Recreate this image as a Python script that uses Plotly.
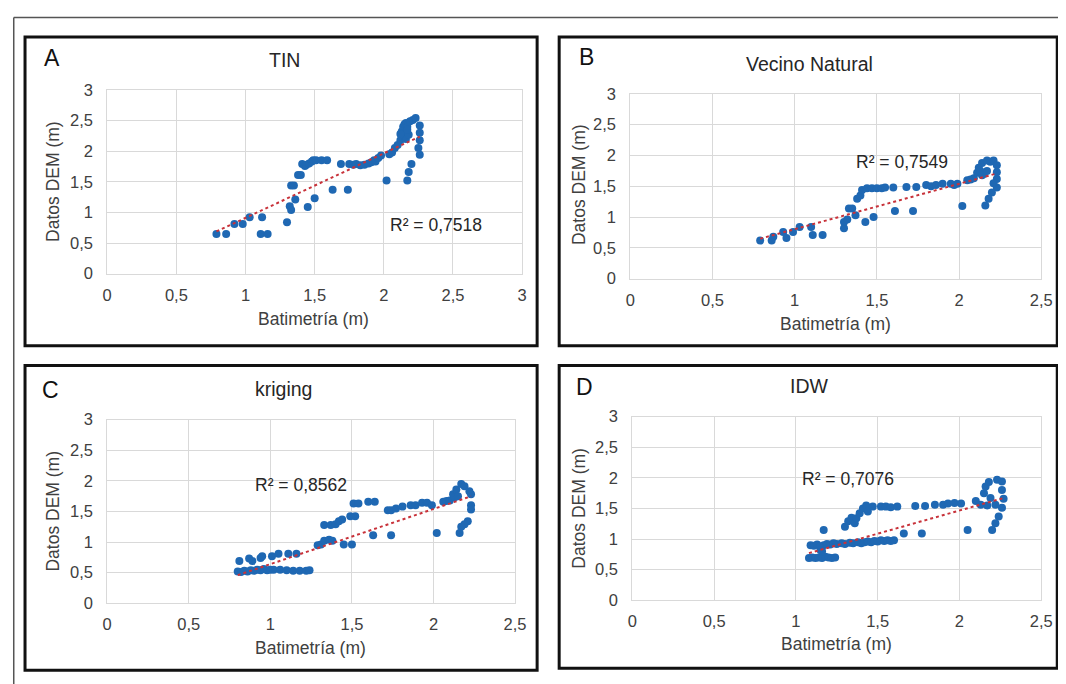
import plotly.graph_objects as go

# Figure size; the photographed page shows the figure slightly offset and scaled,
# so window positions are mapped back into figure pixels below.
W, H = 1075, 690
OX, SX = 12.0, 0.983
OY, SY = 15.0, 0.975

# ---------------- data ----------------
tin_x = [0.79,0.86,0.92,0.98,1.03,1.12,1.11,1.16,1.30,1.32,1.33,1.36,1.45,1.50,1.33,1.35,1.38,1.40,1.41,1.43,
         1.44,1.46,1.48,1.49,1.51,1.55,1.59,1.63,1.74,1.69,1.75,1.78,1.80,1.83,1.86,1.89,1.91,1.93,1.94,1.96,
         1.98,2.02,2.04,2.06,2.08,2.10,2.12,2.13,2.13,2.14,2.15,2.16,2.17,2.19,2.21,2.23,2.26,2.26,2.26,2.25,
         2.26,2.20,2.18,2.17,2.14,2.15,2.16,2.18,2.12,2.17]
tin_y = [0.65,0.65,0.81,0.81,0.92,0.92,0.65,0.65,0.84,1.10,1.04,1.21,1.09,1.23,1.44,1.44,1.61,1.61,1.79,1.76,
         1.78,1.80,1.83,1.85,1.85,1.85,1.85,1.37,1.37,1.79,1.79,1.78,1.79,1.77,1.78,1.80,1.82,1.85,1.83,1.89,
         1.93,1.52,1.95,1.98,2.05,2.10,2.18,2.25,2.32,2.40,2.44,2.46,2.40,2.49,2.51,2.54,2.42,2.30,2.18,2.05,
         1.94,1.79,1.66,1.52,2.22,2.30,2.20,2.27,2.28,2.35]

vn_x = [0.79,0.86,0.87,0.93,0.95,0.99,1.03,1.10,1.11,1.17,1.30,1.30,1.32,1.33,1.35,1.37,1.38,1.40,1.41,1.43,
        1.48,1.44,1.47,1.50,1.53,1.55,1.60,1.61,1.72,1.68,1.74,1.80,1.83,1.86,1.90,1.95,1.97,1.99,2.02,2.05,
        2.07,2.09,2.11,2.12,2.13,2.14,2.15,2.17,2.19,2.21,2.23,2.23,2.23,2.23,2.21,2.20,2.18,2.16,2.14,2.17]
vn_y = [0.62,0.62,0.68,0.76,0.66,0.76,0.84,0.84,0.71,0.71,0.82,0.92,0.96,1.14,1.14,1.03,1.30,1.35,1.44,0.92,
        1.00,1.47,1.47,1.47,1.47,1.48,1.48,1.10,1.10,1.49,1.49,1.52,1.50,1.52,1.54,1.54,1.52,1.54,1.18,1.60,
        1.61,1.63,1.72,1.80,1.75,1.88,1.70,1.92,1.90,1.92,1.84,1.73,1.62,1.48,1.55,1.40,1.30,1.19,1.68,1.75]

kr_x = [0.80,0.82,0.84,0.86,0.88,0.90,0.92,0.94,0.96,0.98,1.00,
        0.81,0.87,0.89,0.94,0.95,1.01,1.05,1.11,1.16,
        1.02,1.06,1.10,1.14,1.18,1.22,1.24,
        1.29,1.31,1.33,1.36,1.38,1.33,1.37,1.40,1.42,1.44,1.45,1.50,1.49,1.52,1.51,1.54,1.60,1.64,1.63,1.74,
        1.72,1.74,1.77,1.81,1.86,1.89,1.93,1.96,1.99,2.02,2.06,2.08,2.10,2.12,2.14,2.17,2.19,2.22,2.23,2.23,
        2.23,2.21,2.19,2.17,2.16,2.13,2.15]
kr_y = [0.52,0.51,0.53,0.52,0.54,0.53,0.55,0.54,0.56,0.54,0.55,
        0.69,0.73,0.69,0.74,0.77,0.77,0.81,0.81,0.81,
        0.55,0.55,0.54,0.53,0.53,0.53,0.54,
        0.95,0.96,1.02,1.04,1.02,1.28,1.28,1.29,1.34,1.37,0.96,0.96,1.42,1.42,1.63,1.63,1.66,1.66,1.11,1.11,
        1.52,1.52,1.55,1.58,1.60,1.60,1.64,1.64,1.60,1.15,1.66,1.67,1.68,1.78,1.86,1.95,1.91,1.83,1.78,1.60,
        1.53,1.34,1.29,1.25,1.15,1.73,1.75]

idw_x = [1.08,1.10,1.12,1.14,1.16,1.18,1.20,1.22,1.24,
         1.09,1.11,1.13,1.15,1.17,1.19,1.21,1.23,1.25,1.28,1.30,1.33,1.35,1.38,1.40,1.42,1.44,1.46,1.48,1.50,
         1.52,1.54,1.56,1.58,1.60,1.15,1.16,
         1.17,1.30,1.32,1.34,1.36,1.37,1.39,1.41,1.43,1.44,1.47,1.52,1.55,1.58,1.62,1.66,1.73,1.77,1.79,1.85,
         1.90,1.93,1.97,2.01,2.05,2.10,2.13,2.15,2.16,2.18,2.23,2.26,2.26,2.27,2.26,2.24,2.22,2.20,2.19,2.22,2.17]
idw_y = [0.69,0.70,0.69,0.70,0.69,0.71,0.70,0.69,0.70,
         0.90,0.89,0.91,0.88,0.90,0.92,0.91,0.93,0.92,0.93,0.92,0.94,0.93,0.95,0.93,0.95,0.96,0.95,0.97,0.96,
         0.98,0.97,0.98,0.97,0.98,0.82,0.80,
         1.15,1.20,1.29,1.35,1.26,1.34,1.42,1.50,1.55,1.45,1.53,1.53,1.53,1.52,1.53,1.09,1.54,1.09,1.54,1.56,
         1.56,1.58,1.59,1.58,1.15,1.62,1.56,1.75,1.86,1.93,1.97,1.94,1.80,1.66,1.51,1.37,1.26,1.15,1.67,1.56,1.55]

# linear trend (slope, intercept) and R² labels
panel_letters = ["A", "B", "C", "D"]
panel_titles = ["TIN", "Vecino Natural", "kriging", "IDW"]
trend_slope = [1.054, 0.736, 0.90, 0.756]
trend_intercept = [-0.143, 0.068, -0.26, -0.046]
r2_labels = ["R² = 0,7518", "R² = 0,7549", "R² = 0,8562", "R² = 0,7076"]
r2_pos = [(2.38, 0.80), (1.65, 1.89), (1.19, 1.93), (1.32, 1.98)]
x_max = [3, 2.5, 2.5, 2.5]
xs = [tin_x, vn_x, kr_x, idw_x]
ys = [tin_y, vn_y, kr_y, idw_y]

# ---------------- layout geometry (window pixels of the reference) ----------------
plot_px = [(106, 520, 88, 272), (628, 1038, 92, 277), (106, 513, 418, 602), (630, 1038, 415, 599)]
box_px = [(24, 535, 35, 344), (557, 1054, 35, 344), (24, 535, 364, 669), (557, 1054, 364, 667)]
letter_px = [(51, 56), (584, 55), (49, 388), (582, 385)]
title_px = [(283, 58), (807, 62), (282, 387), (807, 384)]
xtitle_px = [(312, 317), (833, 322), (309, 647), (834, 643)]
ytitle_px = [(52, 180), (577, 183), (52, 510), (577, 507)]

def px(x): return max(0.0007, (x - OX) / SX / W)
def py(y): return 1 - max(0.0007, (y - OY) / SY / H)

FONT = "Liberation Sans, Arial, sans-serif"
DOT = "#1f68b3"
TREND = "#c8323a"
GRID = "#d9d9d9"
TXT = "#404040"

def text_ann(x, y, text, size, color, **kw):
    d = dict(x=x, y=y, xref="paper", yref="paper", text=text, showarrow=False,
             xanchor="center", yanchor="middle", font=dict(family=FONT, size=size, color=color))
    d.update(kw)
    return d

fig = go.Figure()
annotations = []
shapes = []

for i in range(4):
    ax = "" if i == 0 else str(i + 1)
    xa, ya = "x" + ax, "y" + ax
    fig.add_trace(go.Scatter(x=xs[i], y=ys[i], mode="markers", xaxis=xa, yaxis=ya,
                             marker=dict(color=DOT, size=8, line=dict(width=0)), showlegend=False))
    x0, x1 = min(xs[i]), max(xs[i])
    fig.add_trace(go.Scatter(x=[x0, x1],
                             y=[trend_slope[i] * x0 + trend_intercept[i], trend_slope[i] * x1 + trend_intercept[i]],
                             mode="lines", xaxis=xa, yaxis=ya,
                             line=dict(color=TREND, width=2, dash="dot"), showlegend=False))
    l, r, t, b = plot_px[i]
    fig.layout["xaxis" + ax] = dict(domain=[px(l), px(r)], range=[0, x_max[i]], dtick=0.5, tick0=0,
                                    showgrid=True, gridcolor=GRID, gridwidth=1, zeroline=False,
                                    showline=True, linecolor=GRID, mirror=True, anchor=ya,
                                    tickfont=dict(family=FONT, size=16.5, color=TXT), ticks="",
                                    ticklabelstandoff=6, fixedrange=True)
    fig.layout["yaxis" + ax] = dict(domain=[py(b), py(t)], range=[0, 3], dtick=0.5, tick0=0,
                                    showgrid=True, gridcolor=GRID, gridwidth=1, zeroline=False,
                                    showline=True, linecolor=GRID, mirror=True, anchor=xa,
                                    tickfont=dict(family=FONT, size=16.5, color=TXT), ticks="",
                                    ticklabelstandoff=10, fixedrange=True)
    annotations.append(dict(x=r2_pos[i][0], y=r2_pos[i][1], xref=xa, yref=ya, text=r2_labels[i],
                            showarrow=False, xanchor="center", yanchor="middle",
                            font=dict(family=FONT, size=17.5, color="#262626")))
    annotations.append(text_ann(px(letter_px[i][0]), py(letter_px[i][1]), panel_letters[i], 23, "#111111"))
    annotations.append(text_ann(px(title_px[i][0]), py(title_px[i][1]), panel_titles[i], 19.5, "#262626"))
    annotations.append(text_ann(px(xtitle_px[i][0]), py(xtitle_px[i][1]), "Batimetría (m)", 17.5, TXT))
    annotations.append(text_ann(px(ytitle_px[i][0]), py(ytitle_px[i][1]), "Datos DEM (m)", 17.5, TXT,
                                textangle=-90))
    bl, br, bt, bb = box_px[i]
    shapes.append(dict(type="rect", xref="paper", yref="paper", x0=px(bl), x1=px(br), y0=py(bb), y1=py(bt),
                       line=dict(color="#111111", width=3)))

# outer thin frame (left/top edges of the surrounding figure border)
shapes.append(dict(type="line", xref="paper", yref="paper", x0=px(4), x1=1, y0=py(12), y1=py(12),
                   line=dict(color="#555555", width=1.5), layer="below"))
shapes.append(dict(type="line", xref="paper", yref="paper", x0=px(4), x1=px(4), y0=py(12), y1=0,
                   line=dict(color="#555555", width=1.5), layer="below"))

fig.update_layout(width=W, height=H, margin=dict(l=0, r=0, t=0, b=0),
                  paper_bgcolor="white", plot_bgcolor="white", separators=", ",
                  annotations=annotations, shapes=shapes, showlegend=False)

fig.write_html("out.html", config={"displayModeBar": False})
